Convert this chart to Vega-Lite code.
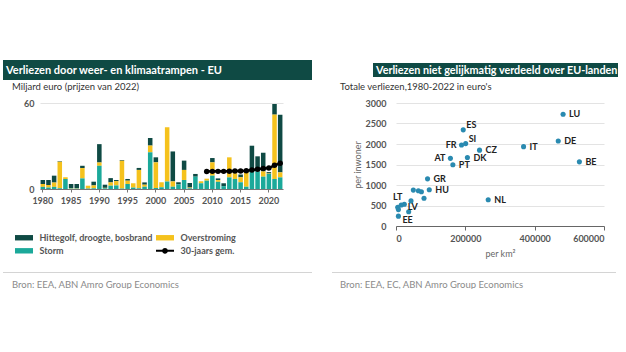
{
  "$schema": "https://vega.github.io/schema/vega-lite/v6.json",
  "background": "white",
  "padding": {"left": 3, "top": 60, "right": 0, "bottom": 0},
  "config": {
    "font": "Lato",
    "view": {"stroke": null},
    "title": {"font": "Lato"},
    "axis": {"labelFont": "Lato", "titleFont": "Lato"},
    "legend": {"labelFont": "Lato"}
  },
  "spacing": 1,
  "vconcat": [
    {
      "hconcat": [
        {
          "width": 309,
          "height": 20,
          "view": {"fill": "#0f4a44", "stroke": null},
          "data": {"values": [{}]},
          "mark": {"type": "text", "text": ""},
          "encoding": {},
          "title": {"text": "Verliezen door weer- en klimaatrampen - EU", "anchor": "start", "frame": "group", "offset": -16, "dx": 3, "color": "white", "fontSize": 11, "fontWeight": "bold"}
        },
        {
          "width": 245,
          "height": 14,
          "view": {"fill": "#0f4a44", "stroke": null},
          "data": {"values": [{}]},
          "mark": {"type": "text", "text": ""},
          "encoding": {},
          "title": {"text": "Verliezen niet gelijkmatig verdeeld over EU-landen", "anchor": "start", "frame": "group", "offset": -12.5, "dx": 3, "color": "white", "fontSize": 10.8, "fontWeight": "bold"}
        }
      ],
      "spacing": 61,
      "center": true
    },
    {
      "vconcat": [
        {
          "hconcat": [
            {
              "hconcat": [
                {
                  "width": 9,
                  "height": 1,
                  "data": {"values": [{}]},
                  "mark": {"type": "text", "text": ""},
                  "encoding": {}
                },
                {
                  "width": 243,
                  "height": 86,
                  "title": {"text": "Miljard euro (prijzen van 2022)", "anchor": "start", "frame": "group", "dx": -28, "offset": 8, "fontSize": 9.5, "fontWeight": "normal", "color": "#333333"},
                  "layer": [
                    {
                      "data": {"values": [
                        {"year": 1980, "storm": 1.5, "overstroming": 2, "hittegolf": 2.8},
                        {"year": 1981, "storm": 1, "overstroming": 1.8, "hittegolf": 3.5},
                        {"year": 1982, "storm": 1.5, "overstroming": 3, "hittegolf": 4.8},
                        {"year": 1983, "storm": 0.5, "overstroming": 18.5, "hittegolf": 0.4},
                        {"year": 1984, "storm": 7, "overstroming": 1.2, "hittegolf": 0},
                        {"year": 1985, "storm": 0.3, "overstroming": 0.3, "hittegolf": 2.9},
                        {"year": 1986, "storm": 0.3, "overstroming": 0.3, "hittegolf": 2.9},
                        {"year": 1987, "storm": 7.4, "overstroming": 7.2, "hittegolf": 1.6},
                        {"year": 1988, "storm": 0.3, "overstroming": 2, "hittegolf": 0},
                        {"year": 1989, "storm": 0.5, "overstroming": 2, "hittegolf": 2.6},
                        {"year": 1990, "storm": 16.2, "overstroming": 2.3, "hittegolf": 12.8},
                        {"year": 1991, "storm": 0.5, "overstroming": 0.3, "hittegolf": 2.2},
                        {"year": 1992, "storm": 2.3, "overstroming": 2.3, "hittegolf": 3},
                        {"year": 1993, "storm": 2.5, "overstroming": 3, "hittegolf": 0.8},
                        {"year": 1994, "storm": 0.3, "overstroming": 19.4, "hittegolf": 0.5},
                        {"year": 1995, "storm": 3.5, "overstroming": 2.3, "hittegolf": 1.2},
                        {"year": 1996, "storm": 1, "overstroming": 3, "hittegolf": 0},
                        {"year": 1997, "storm": 0.5, "overstroming": 12.8, "hittegolf": 1.4},
                        {"year": 1998, "storm": 1.6, "overstroming": 1.4, "hittegolf": 1.6},
                        {"year": 1999, "storm": 25.6, "overstroming": 4.7, "hittegolf": 5.3},
                        {"year": 2000, "storm": 0.7, "overstroming": 17.9, "hittegolf": 3.5},
                        {"year": 2001, "storm": 1.2, "overstroming": 3.5, "hittegolf": 0},
                        {"year": 2002, "storm": 5.3, "overstroming": 37.7, "hittegolf": 0},
                        {"year": 2003, "storm": 1.6, "overstroming": 3.7, "hittegolf": 20.9},
                        {"year": 2004, "storm": 3.2, "overstroming": 0, "hittegolf": 1.5},
                        {"year": 2005, "storm": 6.3, "overstroming": 7, "hittegolf": 6.5},
                        {"year": 2006, "storm": 0.5, "overstroming": 0.5, "hittegolf": 3.2},
                        {"year": 2007, "storm": 8.6, "overstroming": 0, "hittegolf": 1.9},
                        {"year": 2008, "storm": 4, "overstroming": 1.4, "hittegolf": 0},
                        {"year": 2009, "storm": 5.8, "overstroming": 1.4, "hittegolf": 0},
                        {"year": 2010, "storm": 9.3, "overstroming": 9.3, "hittegolf": 3},
                        {"year": 2011, "storm": 5, "overstroming": 1.2, "hittegolf": 1.2},
                        {"year": 2012, "storm": 2, "overstroming": 0, "hittegolf": 2},
                        {"year": 2013, "storm": 8.1, "overstroming": 14, "hittegolf": 0},
                        {"year": 2014, "storm": 7, "overstroming": 4, "hittegolf": 0},
                        {"year": 2015, "storm": 4.7, "overstroming": 3.5, "hittegolf": 1.9},
                        {"year": 2016, "storm": 1.6, "overstroming": 11.6, "hittegolf": 0},
                        {"year": 2017, "storm": 12.3, "overstroming": 0, "hittegolf": 17.9},
                        {"year": 2018, "storm": 12.3, "overstroming": 0, "hittegolf": 10.5},
                        {"year": 2019, "storm": 8.6, "overstroming": 3.7, "hittegolf": 13},
                        {"year": 2020, "storm": 10.5, "overstroming": 0.3, "hittegolf": 1},
                        {"year": 2021, "storm": 7, "overstroming": 44.9, "hittegolf": 7.4},
                        {"year": 2022, "storm": 8.1, "overstroming": 3.5, "hittegolf": 40.2}
                      ]},
                      "transform": [{"fold": ["hittegolf", "overstroming", "storm"], "as": ["type", "value"]}],
                      "mark": {"type": "bar"},
                      "encoding": {
                        "x": {
                          "field": "year", "type": "ordinal",
                          "scale": {"paddingInner": 0.2, "paddingOuter": 0.1},
                          "axis": {"title": null, "values": [1980, 1985, 1990, 1995, 2000, 2005, 2010, 2015, 2020], "labelAngle": 0, "labelFontSize": 9, "labelFontWeight": "bold", "labelColor": "#555555", "domainColor": "#777777", "tickColor": "#777777", "tickSize": 3, "labelPadding": 4, "grid": false}
                        },
                        "y": {
                          "field": "value", "type": "quantitative", "stack": "zero",
                          "scale": {"domain": [0, 60]},
                          "axis": {"title": null, "values": [0, 20, 40, 60], "grid": true, "gridColor": "#e3e3e3", "domain": false, "ticks": false, "labelFontSize": 9, "labelFontWeight": "bold", "labelColor": "#555555", "labelPadding": 6}
                        },
                        "color": {
                          "field": "type", "type": "nominal",
                          "scale": {"domain": ["hittegolf", "storm", "overstroming", "30-jaars gem."], "range": ["#0f4a44", "#1ba99a", "#f5c21d", "#000000"]},
                          "legend": {
                            "title": null, "orient": "none", "legendX": -25, "legendY": 130, "columns": 2, "padding": 0,
                            "labelExpr": "datum.label == 'hittegolf' ? 'Hittegolf, droogte, bosbrand' : datum.label == 'overstroming' ? 'Overstroming' : datum.label == 'storm' ? 'Storm' : datum.label",
                            "symbolType": {"expr": "datum.value == '30-jaars gem.' ? 'M-2,-0.22H2V0.22H-2Z M0.65,0A0.65,0.65 0 1,1 -0.65,0A0.65,0.65 0 1,1 0.65,0Z' : 'M-2,-0.6H2V0.6H-2Z'"},
                            "symbolSize": 81, "symbolOffset": 4.5, "symbolStrokeWidth": 0,
                            "labelOffset": 11, "labelFontSize": 9, "labelFontWeight": "bold", "labelColor": "#555555",
                            "columnPadding": 3, "rowPadding": 3.3
                          }
                        },
                        "order": {"field": "type", "sort": "descending"}
                      }
                    },
                    {
                      "data": {"values": [
                        {"year": 2009, "avg": 12.2},
                        {"year": 2010, "avg": 12.3},
                        {"year": 2011, "avg": 12.3},
                        {"year": 2012, "avg": 12.3},
                        {"year": 2013, "avg": 12.4},
                        {"year": 2014, "avg": 12.5},
                        {"year": 2015, "avg": 12.6},
                        {"year": 2016, "avg": 12.8},
                        {"year": 2017, "avg": 13.3},
                        {"year": 2018, "avg": 13.8},
                        {"year": 2019, "avg": 14.3},
                        {"year": 2020, "avg": 14.6},
                        {"year": 2021, "avg": 16.5},
                        {"year": 2022, "avg": 17.9}
                      ]},
                      "mark": {"type": "line", "strokeWidth": 2.5, "point": {"filled": true, "size": 30}},
                      "encoding": {
                        "x": {"field": "year", "type": "ordinal"},
                        "y": {"field": "avg", "type": "quantitative"},
                        "color": {"datum": "30-jaars gem."}
                      }
                    }
                  ]
                }
              ],
              "spacing": 0,
              "resolve": {"scale": {"color": "independent"}}
            },
            {
              "width": 208,
              "height": 123,
              "title": {"text": "Totale verliezen,1980-2022 in euro's", "anchor": "start", "frame": "group", "dx": -56, "offset": 8, "fontSize": 9.5, "fontWeight": "normal", "color": "#333333"},
              "data": {"values": [
                {"land": "LU", "perkm2": 482000, "perinwoner": 2725},
                {"land": "DE", "perkm2": 468000, "perinwoner": 2075},
                {"land": "BE", "perkm2": 529000, "perinwoner": 1565},
                {"land": "IT", "perkm2": 368000, "perinwoner": 1935},
                {"land": "ES", "perkm2": 194000, "perinwoner": 2345},
                {"land": "SI", "perkm2": 201000, "perinwoner": 2010},
                {"land": "FR", "perkm2": 189000, "perinwoner": 1975},
                {"land": "CZ", "perkm2": 241000, "perinwoner": 1850},
                {"land": "AT", "perkm2": 157000, "perinwoner": 1650},
                {"land": "DK", "perkm2": 206000, "perinwoner": 1670},
                {"land": "PT", "perkm2": 164000, "perinwoner": 1495},
                {"land": "GR", "perkm2": 91000, "perinwoner": 1150},
                {"land": "HU", "perkm2": 96000, "perinwoner": 885},
                {"land": "NL", "perkm2": 266000, "perinwoner": 640},
                {"land": "PL", "perkm2": 50000, "perinwoner": 876},
                {"land": "RO", "perkm2": 64600, "perinwoner": 860},
                {"land": "HR", "perkm2": 73300, "perinwoner": 835},
                {"land": "SK", "perkm2": 80800, "perinwoner": 677},
                {"land": "BG", "perkm2": 43300, "perinwoner": 612},
                {"land": "SE", "perkm2": 24000, "perinwoner": 529},
                {"land": "FI", "perkm2": 15000, "perinwoner": 514},
                {"land": "LT", "perkm2": 5000, "perinwoner": 455},
                {"land": "IE", "perkm2": 7000, "perinwoner": 400},
                {"land": "LV", "perkm2": 36600, "perinwoner": 347},
                {"land": "EE", "perkm2": 7000, "perinwoner": 240}
              ]},
              "encoding": {
                "x": {
                  "field": "perkm2", "type": "quantitative",
                  "scale": {"domain": [0, 600000]},
                  "axis": {"title": "per km²", "values": [0, 200000, 400000, 600000], "format": "d", "labelFontSize": 9, "labelFontWeight": "bold", "labelColor": "#555555", "domainColor": "#666666", "tickColor": "#666666", "tickSize": 4, "labelPadding": 4, "titleFontSize": 9, "titleFontWeight": "normal", "titleColor": "#666666", "titlePadding": 6, "grid": false}
                },
                "y": {
                  "field": "perinwoner", "type": "quantitative",
                  "scale": {"domain": [0, 3000]},
                  "axis": {"title": "per inwoner", "values": [0, 500, 1000, 1500, 2000, 2500, 3000], "format": "d", "grid": true, "gridColor": "#e3e3e3", "domain": false, "ticks": false, "labelFontSize": 9, "labelFontWeight": "bold", "labelColor": "#555555", "labelPadding": 10, "titleFontSize": 9, "titleFontWeight": "normal", "titleColor": "#666666", "titlePadding": 3}
                }
              },
              "layer": [
                {"mark": {"type": "circle", "size": 26, "color": "#2a8ab0", "opacity": 1}},
                {
                  "transform": [{"filter": {"field": "land", "oneOf": ["LU", "DE", "BE", "IT", "CZ", "DK", "GR", "HU", "NL", "PT"]}}],
                  "mark": {"type": "text", "align": "left", "baseline": "middle", "dx": 6, "fontSize": 9, "fontWeight": "bold", "color": "#222222"},
                  "encoding": {"text": {"field": "land"}}
                },
                {
                  "transform": [{"filter": {"field": "land", "oneOf": ["FR", "AT"]}}],
                  "mark": {"type": "text", "align": "right", "baseline": "middle", "dx": -5, "fontSize": 9, "fontWeight": "bold", "color": "#222222"},
                  "encoding": {"text": {"field": "land"}}
                },
                {
                  "transform": [{"filter": {"field": "land", "oneOf": ["ES", "SI"]}}],
                  "mark": {"type": "text", "align": "left", "baseline": "middle", "dx": 3, "dy": -5, "fontSize": 9, "fontWeight": "bold", "color": "#222222"},
                  "encoding": {"text": {"field": "land"}}
                },
                {
                  "transform": [{"filter": {"field": "land", "equal": "LT"}}],
                  "mark": {"type": "text", "align": "center", "baseline": "middle", "dy": -10, "fontSize": 9, "fontWeight": "bold", "color": "#222222"},
                  "encoding": {"text": {"field": "land"}}
                },
                {
                  "transform": [{"filter": {"field": "land", "equal": "LV"}}],
                  "mark": {"type": "text", "align": "left", "baseline": "middle", "dx": -1, "dy": -5, "fontSize": 9, "fontWeight": "bold", "color": "#222222"},
                  "encoding": {"text": {"field": "land"}}
                },
                {
                  "transform": [{"filter": {"field": "land", "equal": "EE"}}],
                  "mark": {"type": "text", "align": "left", "baseline": "middle", "dx": 4, "dy": 4, "fontSize": 9, "fontWeight": "bold", "color": "#222222"},
                  "encoding": {"text": {"field": "land"}}
                }
              ]
            }
          ],
          "spacing": 54,
          "resolve": {"scale": {"x": "independent", "y": "independent", "color": "independent"}}
        },
        {
          "hconcat": [
            {
              "width": 309,
              "height": 1,
              "view": {"fill": "#d4d4d4", "stroke": null},
              "data": {"values": [{}]},
              "mark": {"type": "text", "text": ""},
              "encoding": {},
              "title": {"text": "Bron: EEA, ABN Amro Group Economics", "orient": "bottom", "anchor": "start", "frame": "group", "offset": 2, "dx": 9, "fontSize": 9.5, "fontWeight": "normal", "color": "#8a8a8a"}
            },
            {
              "width": 284,
              "height": 1,
              "view": {"fill": "#d4d4d4", "stroke": null},
              "data": {"values": [{}]},
              "mark": {"type": "text", "text": ""},
              "encoding": {},
              "title": {"text": "Bron: EEA, EC, ABN Amro Group Economics", "orient": "bottom", "anchor": "start", "frame": "group", "offset": 2, "dx": 8, "fontSize": 9.5, "fontWeight": "normal", "color": "#8a8a8a"}
            }
          ],
          "spacing": 20
        }
      ],
      "spacing": 8
    }
  ]
}
